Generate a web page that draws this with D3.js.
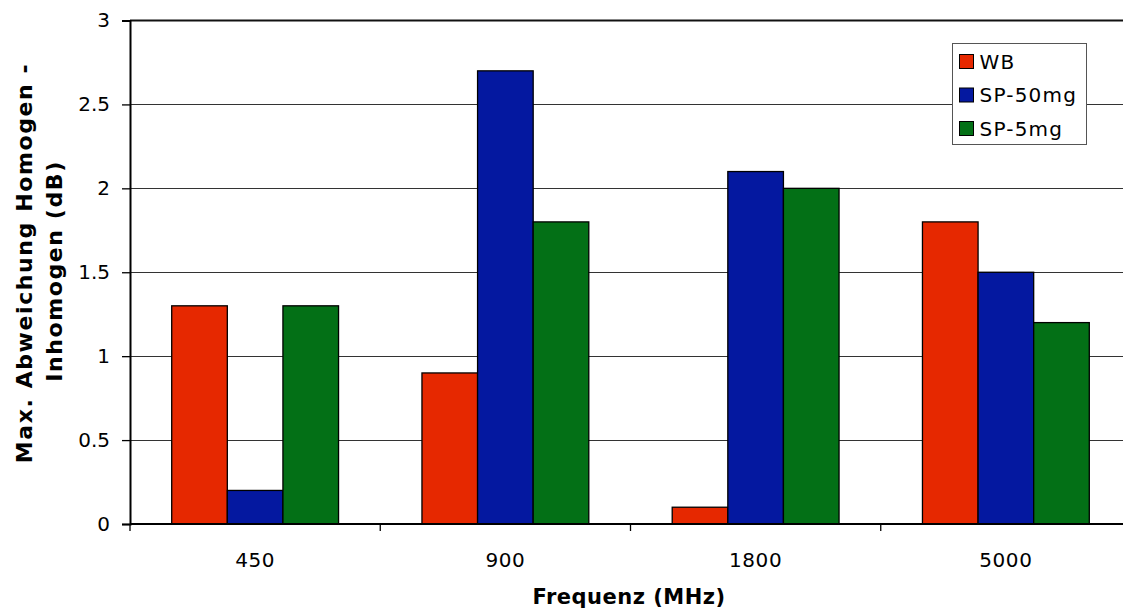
<!DOCTYPE html>
<html>
<head>
<meta charset="utf-8">
<script src="https://cdn.jsdelivr.net/npm/d3@7"></script>
<style>
  html, body { margin: 0; padding: 0; background: #fff; }
  svg { display: block; }
  text { font-family: "DejaVu Sans", Verdana, sans-serif; fill: #000; }
</style>
</head>
<body>
<svg id="chart" width="1123" height="613"></svg>
<script>
// Frequency bands on the x axis
const categories = ["450", "900", "1800", "5000"];
// Measurement series
const seriesNames = ["WB", "SP-50mg", "SP-5mg"];
const seriesColors = ["#E62800", "#0418A0", "#037016"];
// Max. deviation in dB for each series, per frequency
const valuesWB = [1.3, 0.9, 0.1, 1.8];
const valuesSP50 = [0.2, 2.7, 2.1, 1.5];
const valuesSP5 = [1.3, 1.8, 2.0, 1.2];
// Y axis ticks
const yTicks = [0, 0.5, 1, 1.5, 2, 2.5, 3];

const seriesValues = [valuesWB, valuesSP50, valuesSP5];
const rows = categories.map((c, i) => ({
  cat: c,
  vals: seriesNames.map((s, j) => ({ key: s, value: seriesValues[j][i], color: seriesColors[j] }))
}));

const svg = d3.select("#chart");
const plotLeft = 130, plotRight = 1131, plotTop = 20.5, plotBottom = 524;

const x0 = d3.scaleBand().domain(categories).range([plotLeft, plotRight]).padding(0);
const x1 = d3.scaleBand().domain(seriesNames).range([0, x0.bandwidth()])
  .paddingInner(0).paddingOuter(0.75);
const y = d3.scaleLinear().domain([0, 3]).range([plotBottom, plotTop]);

// Horizontal gridlines
svg.append("g").selectAll("line").data(yTicks.filter(t => t > 0 && t < 3)).join("line")
  .attr("x1", plotLeft).attr("x2", plotRight)
  .attr("y1", d => Math.round(y(d)) + 0.5).attr("y2", d => Math.round(y(d)) + 0.5)
  .attr("stroke", "#333").attr("stroke-width", 1.2);

// Top border of the plot area
svg.append("line").attr("x1", plotLeft).attr("x2", plotRight)
  .attr("y1", y(3)).attr("y2", y(3)).attr("stroke", "#111").attr("stroke-width", 2);

// Bars
const groups = svg.append("g").selectAll("g").data(rows).join("g")
  .attr("transform", d => `translate(${x0(d.cat)},0)`);
groups.selectAll("rect").data(d => d.vals).join("rect")
  .attr("x", d => x1(d.key))
  .attr("y", d => y(d.value))
  .attr("width", x1.bandwidth())
  .attr("height", d => y(0) - y(d.value))
  .attr("fill", d => d.color)
  .attr("stroke", "#000").attr("stroke-width", 1.3);

// Y axis
const yAxis = d3.axisLeft(y).tickValues(yTicks).tickSize(8).tickPadding(12)
  .tickFormat(d3.format("~g"));
const gy = svg.append("g").attr("transform", `translate(${plotLeft},0)`).call(yAxis);
gy.select(".domain").attr("stroke", "#000").attr("stroke-width", 2);
gy.selectAll(".tick line").attr("stroke", "#000").attr("stroke-width", 1.3);
gy.selectAll(".tick text").attr("font-size", 20).attr("fill", "#222");

// X axis: ticks at band boundaries, labels at band centres
const boundaries = categories.map(c => x0(c));
const gx = svg.append("g");
gx.append("line").attr("x1", plotLeft).attr("x2", plotRight)
  .attr("y1", y(0)).attr("y2", y(0)).attr("stroke", "#000").attr("stroke-width", 2);
gx.selectAll("line.tk").data(boundaries).join("line").attr("class", "tk")
  .attr("x1", d => d).attr("x2", d => d)
  .attr("y1", y(0)).attr("y2", y(0) + 7)
  .attr("stroke", "#000").attr("stroke-width", 1.3);
gx.selectAll("text").data(categories).join("text")
  .attr("x", d => x0(d) + x0.bandwidth() / 2)
  .attr("y", 566.5)
  .attr("text-anchor", "middle")
  .attr("font-size", 20).attr("letter-spacing", 0.6).attr("fill", "#222")
  .text(d => d);

// Axis titles
svg.append("text").attr("x", 629).attr("y", 604)
  .attr("text-anchor", "middle").attr("font-size", 21).attr("font-weight", "bold")
  .attr("letter-spacing", 0.5)
  .text("Frequenz (MHz)");
svg.append("text").attr("transform", "translate(32,263) rotate(-90)")
  .attr("text-anchor", "middle").attr("font-size", 22).attr("font-weight", "bold")
  .attr("letter-spacing", 1.6)
  .text("Max. Abweichung Homogen -");
svg.append("text").attr("transform", "translate(62,271) rotate(-90)")
  .attr("text-anchor", "middle").attr("font-size", 22).attr("font-weight", "bold")
  .attr("letter-spacing", 1.6)
  .text("Inhomogen (dB)");

// Legend
const lg = svg.append("g").attr("transform", "translate(952,43)");
lg.append("rect").attr("x", 0.5).attr("y", 0.5).attr("width", 134).attr("height", 101)
  .attr("fill", "#fff").attr("stroke", "#555").attr("stroke-width", 1);
const items = lg.selectAll("g").data(seriesNames).join("g")
  .attr("transform", (d, i) => `translate(7.5,${11.5 + i * 33.5})`);
items.append("rect").attr("width", 14).attr("height", 14)
  .attr("fill", (d, i) => seriesColors[i]).attr("stroke", "#000").attr("stroke-width", 1);
items.append("text").attr("x", 20).attr("y", 14)
  .attr("font-size", 20).attr("letter-spacing", 1.2).attr("fill", "#111").text(d => d);
</script>
</body>
</html>
